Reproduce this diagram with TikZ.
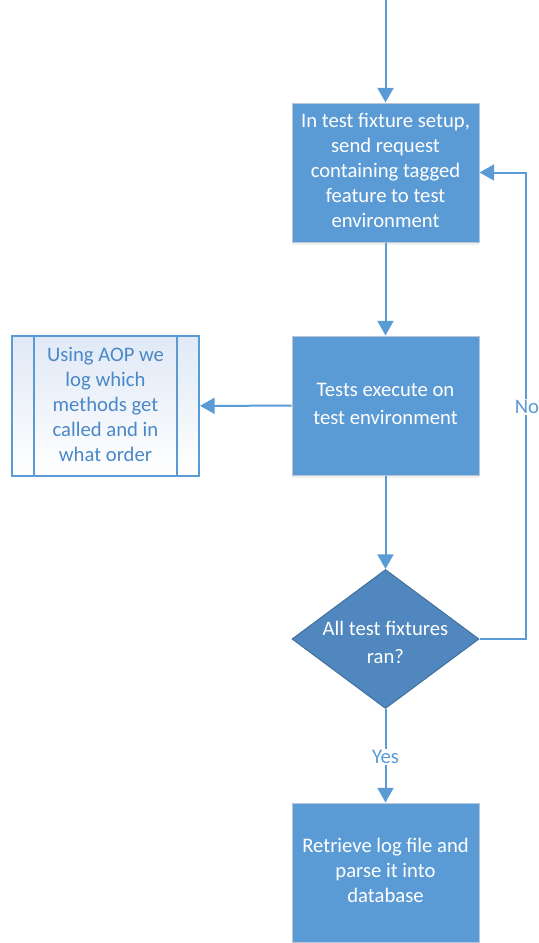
\documentclass[tikz,border=0pt]{standalone}
\usepackage{fontspec}
\setmainfont{Carlito}
\usepackage{tikz}
\usetikzlibrary{shapes,shadows,arrows.meta}

\definecolor{boxblue}{HTML}{5B9BD5}
\definecolor{boxedge}{HTML}{B8C6D6}
\definecolor{decblue}{HTML}{4F87BE}
\definecolor{decedge}{HTML}{41719C}
\definecolor{subtop}{HTML}{E0E9F6}
\definecolor{subtext}{HTML}{4A88C8}

\tikzset{
	process/.style={draw=boxedge, fill=boxblue, text=white, rectangle, line width=0.75pt,
		minimum width=140.25pt, minimum height=104.25pt,
		drop shadow={opacity=0.12, shadow xshift=0pt, shadow yshift=-2pt}},
	decision/.style={draw=decedge, fill=decblue, diamond, aspect=1.345, inner sep=0pt,
		line width=0.75pt, minimum width=140.25pt, minimum height=104.25pt},
	dectext/.style={text=white, yshift=-4pt},
	subproc/.style={draw=boxblue, top color=subtop, bottom color=white, text=subtext, rectangle,
		line width=1.5pt, minimum width=140.25pt, minimum height=105pt},
	lbl/.style={fill=white, text=boxblue, inner sep=1pt}
}

\begin{document}
\begin{tikzpicture}[x=0.75pt, y=-0.75pt, line width=1.5pt, draw=boxblue,
	>={Triangle[length=11pt,width=12pt]},
	every node/.style={font=\fontsize{15.5pt}{18.75pt}\selectfont}]
	\useasboundingbox (0,0) rectangle (539,943);
	\coordinate (start) at (385.5,0);
	\node[process] (setup) at (385.5,172.5) {\begin{tabular}{@{}c@{}} In test fixture setup, \\ send request \\ containing tagged \\ feature to test \\ environment \end{tabular}};
	\node[process] (tests) at (385.5,405.5) {\begin{tabular}{@{}c@{}} Tests execute on \\[2pt] test environment \end{tabular}};
	\node[subproc] (aop) at (105.5,406) {\begin{tabular}{@{}c@{}} Using AOP we \\ log which \\ methods get \\ called and in \\ what order \end{tabular}};
	\draw[line width=1.5pt] ([xshift=17.25pt]aop.north west) -- ([xshift=17.25pt]aop.south west);
	\draw[line width=1.5pt] ([xshift=-17.25pt]aop.north east) -- ([xshift=-17.25pt]aop.south east);
	\node[decision, label={[dectext]center:{\begin{tabular}{@{}c@{}} All test fixtures \\[2pt] ran? \end{tabular}}}] (ran) at (385.5,639) {};
	\node[process] (parse) at (385.5,872.5) {\begin{tabular}{@{}c@{}} Retrieve log file and \\ parse it into \\ database \end{tabular}};
	\coordinate (loop) at (526,172.5);
	\path [->] (start) edge (setup);
	\path [->] (setup) edge (tests);
	\path [->] (tests) edge (aop);
	\path [->] (tests) edge (ran);
	\path [->] (ran) edge (parse);
	\draw [->] (ran.east) -| (loop) -- (setup.east);
	\node[lbl] (no) at (527,407) {No};
	\node[lbl] (yes) at (385.5,757) {Yes};
\end{tikzpicture}
\end{document}
